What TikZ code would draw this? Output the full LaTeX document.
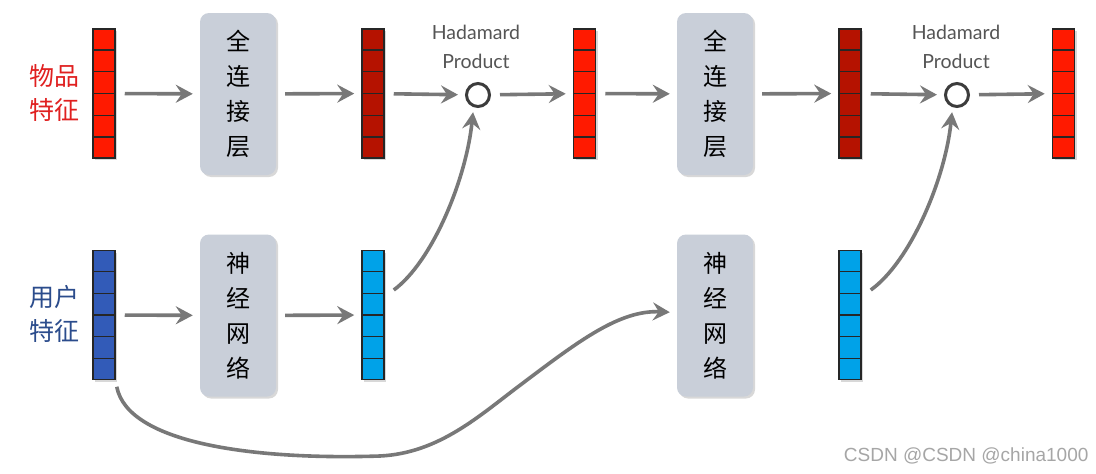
\documentclass[tikz,border=0pt]{standalone}
\usepackage{fontspec}
\newfontfamily\cjk{Noto Sans CJK SC}
\newfontfamily\hfont{Lato}
\newfontfamily\wmfont{Liberation Sans}
\usetikzlibrary{arrows.meta,shadows,calc}
\definecolor{redA}{HTML}{FF1A00}
\definecolor{redB}{HTML}{B51200}
\definecolor{blueA}{HTML}{325BB8}
\definecolor{blueB}{HTML}{00A2E8}
\definecolor{labred}{HTML}{E02020}
\definecolor{labblue}{HTML}{2B4C8C}
\definecolor{boxgray}{HTML}{C9CFD9}
\definecolor{arrgray}{HTML}{787878}
\definecolor{circgray}{HTML}{3C3C3C}
\definecolor{txtgray}{HTML}{555555}
\tikzset{
  vecbox/.style={draw=black!85, line width=1.5pt, minimum width=22pt, minimum height=129pt, inner sep=0pt,
    drop shadow={shadow xshift=2pt, shadow yshift=-2pt, opacity=0.3}},
  procbox/.style={rounded corners=9pt, fill=boxgray, minimum width=76pt, minimum height=162pt, inner sep=0pt,
    align=center, font=\cjk\fontsize{24}{35}\selectfont,
    drop shadow={shadow xshift=2pt, shadow yshift=-2pt, opacity=0.3}},
  arr/.style={draw=arrgray, line width=3.6pt, -{Stealth[length=17pt,width=18pt,inset=6pt]}},
  hcirc/.style={circle, draw=circgray, line width=3pt, minimum size=23pt, inner sep=0pt, fill=white},
  hlabel/.style={align=center, text=txtgray, font=\hfont\fontsize{19.5}{29}\selectfont},
  featlab/.style={align=center, font=\cjk\fontsize{25}{34}\selectfont},
}
\begin{document}
\begin{tikzpicture}[x=1pt,y=-1pt]
\useasboundingbox[fill=white] (0,0) rectangle (1096,474);
% vectors
\node[vecbox, fill=redA] (r1) at (104,93.5) {};
\node[vecbox, fill=redB] (r2) at (373,93.5) {};
\node[vecbox, fill=redA] (r3) at (584.5,93.5) {};
\node[vecbox, fill=redB] (r4) at (850,93.5) {};
\node[vecbox, fill=redA] (r5) at (1063.5,93.5) {};
\node[vecbox, fill=blueA] (b1) at (104,315) {};
\node[vecbox, fill=blueB] (b2) at (373,315) {};
\node[vecbox, fill=blueB] (b4) at (850,315) {};
\foreach \n in {r1,r2,r3,r4,r5,b1,b2,b4}{
  \foreach \k in {1,...,5}{
    \draw[black!85, line width=1.3pt] ($(\n.north west)!\k/6!(\n.south west)$) -- ($(\n.north east)!\k/6!(\n.south east)$);
  }
}
% process boxes
\node[procbox] (f1) at (238,94) {全\\连\\接\\层};
\node[procbox] (f2) at (715,94) {全\\连\\接\\层};
\node[procbox] (n1) at (238,315.5) {神\\经\\网\\络};
\node[procbox] (n2) at (715,315.5) {神\\经\\网\\络};
% hadamard
\node[hcirc] (h1) at (478,95) {};
\node[hcirc] (h2) at (957,95) {};
\node[hlabel] (ht1) at (476,47) {Hadamard\\Product};
\node[hlabel] (ht2) at (956,47) {Hadamard\\Product};
% labels
\node[featlab, text=labred] (lf1) at (54,92.5) {物品\\特征};
\node[featlab, text=labblue] (lu1) at (54,313.5) {用户\\特征};
% watermark
\node[text=black!35, font=\wmfont\fontsize{19}{19}\selectfont, anchor=east] (wm) at (1092,456) {CSDN @CSDN @china1000};
% straight arrows
\foreach \a/\b in {r1/f1, f1/r2, r2/h1, h1/r3, r3/f2, f2/r4, r4/h2, h2/r5, b1/n1, n1/b2}{
  \draw[arr, shorten <=9pt, shorten >=7pt] (\a) -- (\b);
}
% curved arrows
\draw[arr, shorten >=5pt] ([xshift=9pt,yshift=25pt]b2.east) .. controls (432,262) and (466,180) .. (h1.250);
\draw[arr, shorten >=5pt] ([xshift=9pt,yshift=25pt]b4.east) .. controls (910,262) and (945,180) .. (h2.250);
\draw[arr, shorten >=7pt] ([xshift=1pt,yshift=-6.5pt]b1.south east) .. controls (128,445) and (260,460) .. (380,456)
   .. controls (440,453) and (480,415) .. (523,383)
   .. controls (580,340) and (620,310) .. ([yshift=3pt]n2.west);
\end{tikzpicture}
\end{document}
